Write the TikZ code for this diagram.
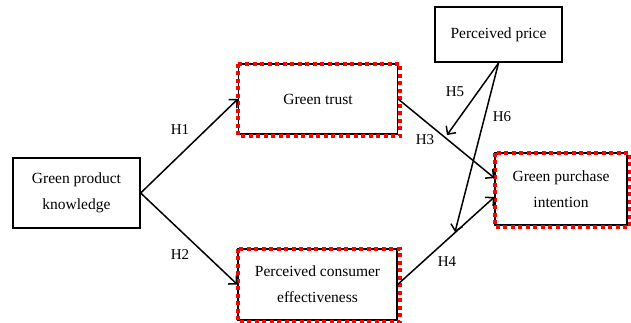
\documentclass[tikz,border=0pt]{standalone}
\usepackage{fontspec}
\setmainfont{Liberation Serif}
\usetikzlibrary{arrows.meta}
\begin{document}
\begin{tikzpicture}[x=1pt,y=-1pt,
  box/.style={draw=black, line width=1.3pt, fill=white, inner sep=0pt, align=center,
    font=\fontsize{15.5}{26}\selectfont},
  thickbox/.style={box, line width=2.2pt},
  reddots/.style={draw=red, line width=4pt, dash pattern=on 4pt off 3.5pt},
  arr/.style={line width=1.5pt, -{Straight Barb[length=6pt,width=12pt,line width=1.5pt]}},
  lab/.style={font=\fontsize{15}{16}\selectfont, inner sep=0pt}
]
\useasboundingbox (0,0) rectangle (631,322);
\node[box, minimum width=159pt, minimum height=70pt] (gt) at (318,99) {Green trust};
\node[thickbox, minimum width=127pt, minimum height=55pt] (pp) at (498.5,34.5) {Perceived price};
\node[box, minimum width=127pt, minimum height=70pt] (gpk) at (76.5,193) {Green product\\knowledge};
\node[box, minimum width=132pt, minimum height=72pt] (gpi) at (561,189) {Green purchase\\intention};
\node[box, minimum width=159pt, minimum height=71pt] (pce) at (317.5,284.5) {Perceived consumer\\effectiveness};
\foreach \n in {gt,gpi,pce}{
  \draw[reddots] ([shift={(0.5pt,-0.5pt)}]\n.north west) rectangle ([shift={(2pt,-1.5pt)}]\n.south east);
}
\coordinate (h5end) at (447,135);
\coordinate (h6end) at (455,232);
\draw[arr] (gpk.east) -- (gt.west);
\draw[arr] (gpk.east) -- (pce.west);
\draw[arr] (gt.east) -- ([yshift=11pt]gpi.west);
\draw[arr] (pce.east) -- ([yshift=-8pt]gpi.west);
\draw[arr] (pp.south) -- (h5end);
\draw[arr] (pp.south) -- (h6end);
\node[lab] (l1) at (180,130) {H1};
\node[lab] (l2) at (180,255) {H2};
\node[lab] (l3) at (425,140) {H3};
\node[lab] (l4) at (447,262) {H4};
\node[lab] (l5) at (455,92) {H5};
\node[lab] (l6) at (502,117) {H6};
\end{tikzpicture}
\end{document}
